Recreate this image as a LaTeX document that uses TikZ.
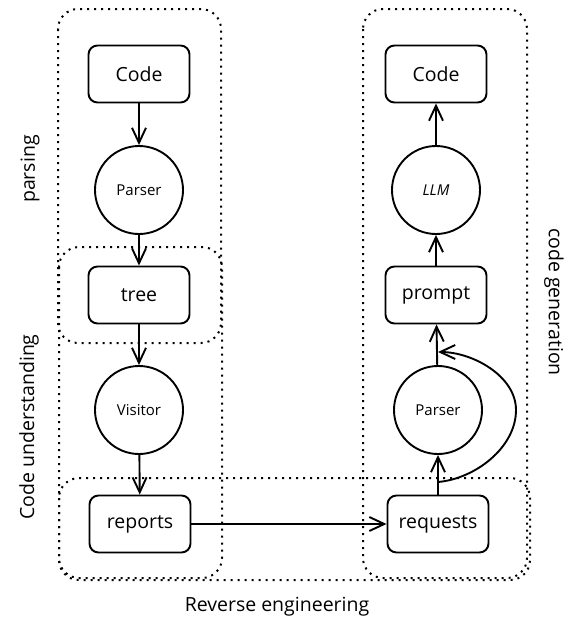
\documentclass[tikz,border=0pt]{standalone}
\usepackage{fontspec}
\setmainfont{Open Sans}
\usetikzlibrary{arrows.meta}
\tikzset{
  box/.style={draw, line width=1.9pt, rounded corners=9pt, minimum width=101pt, minimum height=57pt, font=\fontsize{19.5}{21}\selectfont},
  circ/.style={draw, circle, line width=1.9pt, minimum size=88pt, inner sep=0pt, font=\fontsize{15}{17}\selectfont},
  grp/.style={line width=2pt, dash pattern=on 2pt off 5pt, rounded corners=20pt},
  arr/.style={line width=1.9pt, -{Straight Barb[length=15pt,width=14pt,line width=1.9pt]}},
  lbl/.style={font=\fontsize{19.5}{21}\selectfont, inner sep=0pt}
}
\begin{document}
\begin{tikzpicture}[x=1pt,y=-1pt]
\useasboundingbox (0,0) rectangle (577,632);
% group outlines
\draw[grp] (58,9) rectangle (221,343);
\draw[grp] (59,247) rectangle (222,578);
\draw[grp] (363,9) rectangle (527,578);
\draw[grp] (59,478) rectangle (530,580);
% left column
\node[box] (code1) at (139,74) {Code};
\node[circ] (parser1) at (139,190) {Parser};
\node[box] (tree) at (139,295) {tree};
\node[circ] (visitor) at (139,410) {Visitor};
\node[box] (reports) at (140,524) {reports};
% right column
\node[box] (code2) at (436,74) {Code};
\node[circ] (llm) at (436,190) {\textit{LLM}};
\node[box] (prompt) at (436,295) {prompt};
\node[circ] (parser2) at (438,410) {Parser};
\node[box] (requests) at (438,524) {requests};
% connectors
\draw[arr] (code1) -- (parser1);
\draw[arr] (parser1) -- (tree);
\draw[arr] (tree) -- (visitor);
\draw[arr] (visitor) -- (reports);
\draw[arr, line width=2.5pt] (reports) -- (requests);
\draw[arr] (requests) -- (parser2);
\draw[arr] (parser2) -- (prompt);
\draw[arr] (prompt) -- (llm);
\draw[arr] (llm) -- (code2);
\coordinate (loopstart) at (438,482);
\coordinate (loopmid) at (516,410);
\coordinate (loopend) at (438,352);
\draw[arr] (loopstart) to[out=5,in=-90,looseness=0.9] (loopmid) to[out=90,in=0,looseness=0.9] (loopend);
% labels
\node[lbl, rotate=90] (lparsing) at (30,169) {parsing};
\node[lbl, rotate=90] (lunder) at (29,427) {Code understanding};
\node[lbl, rotate=-90] (lgen) at (554,302) {code generation};
\node[lbl] (lrev) at (277,607) {Reverse engineering};
\end{tikzpicture}
\end{document}
